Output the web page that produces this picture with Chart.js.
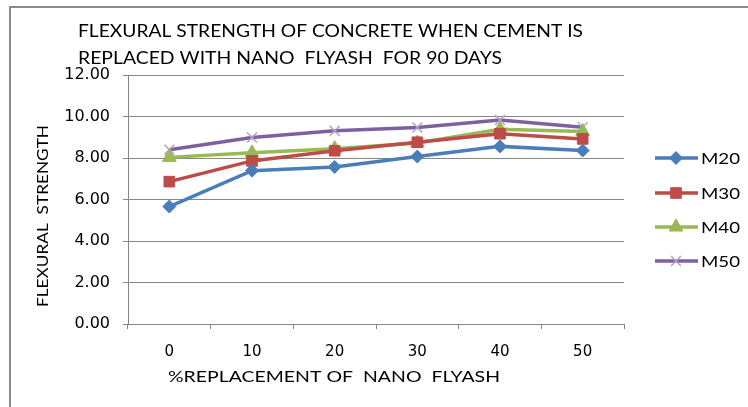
<!DOCTYPE html>
<html>
<head>
<meta charset="utf-8">
<script src="https://cdn.jsdelivr.net/npm/chart.js@4/dist/chart.umd.min.js"></script>
<style>
html,body{margin:0;padding:0;background:#fff;}
#wrap{position:relative;width:748px;height:407px;}
</style>
</head>
<body>
<div id="wrap"><canvas id="c" width="748" height="407"></canvas></div>
<script>
const categories = ['0', '10', '20', '30', '40', '50'];
const m20 = [5.66, 7.39, 7.57, 8.07, 8.56, 8.36];
const m30 = [6.86, 7.86, 8.35, 8.76, 9.17, 8.92];
const m40 = [8.03, 8.25, 8.45, 8.72, 9.38, 9.28];
const m50 = [8.40, 8.99, 9.31, 9.47, 9.83, 9.48];
const seriesNames = ['M20', 'M30', 'M40', 'M50'];
const titleLines = ['FLEXURAL STRENGTH OF CONCRETE WHEN CEMENT IS', 'REPLACED WITH NANO  FLYASH  FOR 90 DAYS'];
const xTitle = '%REPLACEMENT OF  NANO  FLYASH';
const yTitle = 'FLEXURAL  STRENGTH';

const FONT = '"DejaVu Sans", sans-serif';
const TFONT = 'Lato, sans-serif';
const colors = ['#4A7EBB', '#BE4B48', '#98B954', '#7D60A0'];
const styles = ['rectRot', 'rect', 'triangle', 'crossRot'];
const radii = [6.5, 7.5, 8, 7];
const borderCols = ['#4A7EBB', '#BE4B48', '#98B954', '#B3A2C7'];

function mkDs(i, data) {
  return {
    label: seriesNames[i], data: data,
    borderColor: colors[i], backgroundColor: colors[i], borderWidth: 3.5,
    pointStyle: styles[i], pointRadius: radii[i], pointHoverRadius: radii[i],
    pointBackgroundColor: colors[i], pointBorderColor: borderCols[i],
    pointBorderWidth: i === 3 ? 1.5 : 1, tension: 0
  };
}

// draw text stretched to a target width, keeping given font size for height
function fitText(ctx, text, x, y, width, size, align) {
  ctx.font = size + 'px ' + TFONT;
  const w = ctx.measureText(text).width;
  const sx = width / w;
  ctx.save();
  ctx.translate(x, y);
  ctx.scale(sx, 1);
  ctx.textAlign = align;
  ctx.fillText(text, 0, 0);
  ctx.restore();
}

const decor = {
  id: 'decor',
  afterDraw(chart) {
    const ctx = chart.ctx;
    ctx.save();
    ctx.fillStyle = '#8a8a8a';
    ctx.fillRect(9, 6, 2, 401);
    ctx.fillRect(9, 6, 739, 2);
    ctx.fillStyle = '#000';
    ctx.textBaseline = 'middle';
    fitText(ctx, titleLines[0], 78, 32, 505, 17, 'left');
    fitText(ctx, titleLines[1], 78, 59, 424, 17, 'left');
    fitText(ctx, xTitle, 334, 377, 332, 16, 'center');
    ctx.save();
    ctx.translate(43, 216);
    ctx.rotate(-Math.PI / 2);
    fitText(ctx, yTitle, 0, 0, 182, 16, 'center');
    ctx.restore();
    const ys = [158, 193, 227, 261];
    chart.data.datasets.forEach((ds, i) => {
      const y = ys[i];
      ctx.strokeStyle = ds.borderColor;
      ctx.lineWidth = 3.5;
      ctx.beginPath(); ctx.moveTo(655, y); ctx.lineTo(698, y); ctx.stroke();
      ctx.fillStyle = ds.pointBackgroundColor;
      ctx.strokeStyle = ds.pointBorderColor;
      ctx.lineWidth = ds.pointBorderWidth;
      Chart.helpers.drawPoint(ctx, {
        pointStyle: ds.pointStyle, rotation: 0, radius: ds.pointRadius,
        borderWidth: ds.pointBorderWidth
      }, 676, y);
      ctx.fillStyle = '#000';
      fitText(ctx, ds.label, 701, y + 1, 39, 16, 'left');
    });
    ctx.restore();
  }
};

new Chart(document.getElementById('c'), {
  type: 'line',
  data: {
    labels: categories,
    datasets: [mkDs(0, m20), mkDs(1, m30), mkDs(2, m40), mkDs(3, m50)]
  },
  options: {
    responsive: false,
    animation: false,
    layout: { padding: { left: 0, top: 75, right: 124, bottom: 0 } },
    plugins: { legend: { display: false }, title: { display: false }, tooltip: { enabled: false } },
    scales: {
      x: {
        offset: true,
        grid: { offset: true, drawOnChartArea: false, drawTicks: true, tickLength: 5, color: '#868686' },
        border: { color: '#868686', width: 1 },
        ticks: { color: '#000', font: { family: FONT, size: 15 }, padding: 14, maxRotation: 0 },
        afterFit(s) { s.height = 83; }
      },
      y: {
        min: 0, max: 12,
        grid: { color: '#868686', tickLength: 5 },
        border: { color: '#868686', width: 1 },
        ticks: { stepSize: 2, color: '#000', font: { family: FONT, size: 16 }, padding: 13,
                 callback: v => Number(v).toFixed(2) },
        afterFit(s) { s.width = 128; }
      }
    }
  },
  plugins: [decor]
});
</script>
</body>
</html>
